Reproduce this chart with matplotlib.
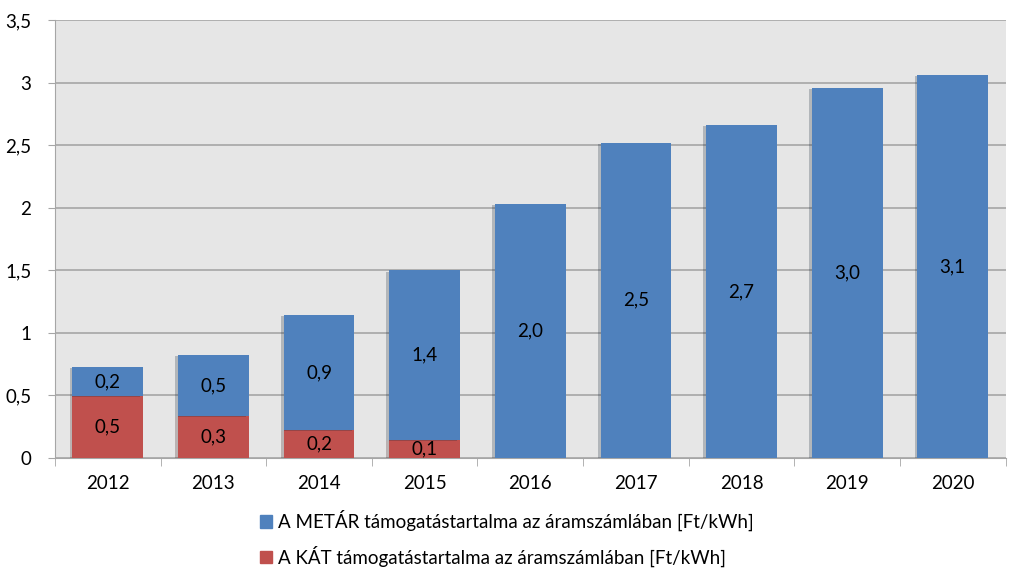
import numpy as np
import matplotlib.pyplot as plt
import matplotlib.patheffects as pe
from matplotlib.patches import Patch
from matplotlib.ticker import FuncFormatter, MultipleLocator

plt.rcParams['font.family'] = ['Lato', 'DejaVu Sans']

years = ['2012', '2013', '2014', '2015', '2016', '2017', '2018', '2019', '2020']
kat = [0.495, 0.335, 0.224, 0.144, 0, 0, 0, 0, 0]  # red part (bottom)
metar = [0.232, 0.488, 0.918, 1.356, 2.03, 2.52, 2.66, 2.96, 3.06]  # blue part (top)
label_metar = 'A METÁR támogatástartalma az áramszámlában [Ft/kWh]'
label_kat = 'A KÁT támogatástartalma az áramszámlában [Ft/kWh]'

blue = '#4F81BD'
red = '#C0504D'
grid_c = '#A6A6A6'
fs = 13.5


def hu(v):
    return ('%.1f' % v).replace('.', ',')


fig = plt.figure(figsize=(10.24, 5.84), dpi=100)
ax = fig.add_axes([0.0537, 0.2158, 0.9283, 0.75])
ax.set_facecolor('#E6E6E6')

xs = np.arange(len(years))
shadow = [pe.SimplePatchShadow(offset=(-2, -1), alpha=0.25), pe.Normal()]
b_kat = ax.bar(xs, kat, width=0.67, color=red, zorder=3)
b_met = ax.bar(xs, metar, width=0.67, bottom=kat, color=blue, zorder=3)
for b in list(b_kat) + list(b_met):
    b.set_path_effects(shadow)

# value labels
for i in range(len(years)):
    if kat[i] > 0:
        ax.text(xs[i], kat[i] / 2, hu(kat[i]), ha='center', va='center', fontsize=fs, zorder=4)
    ax.text(xs[i], kat[i] + metar[i] / 2, hu(metar[i]), ha='center', va='center', fontsize=fs, zorder=4)

ax.set_xlim(-0.5, len(years) - 0.5)
ax.set_ylim(0, 3.5)
ax.yaxis.set_major_locator(MultipleLocator(0.5))
ax.yaxis.set_major_formatter(FuncFormatter(lambda v, p: ('%g' % v).replace('.', ',')))
ax.set_xticks(xs)
ax.set_xticklabels(years)
ax.set_xticks(np.arange(-0.5, len(years)), minor=True)
ax.tick_params(axis='x', which='major', length=0, pad=12, labelsize=fs)
ax.tick_params(axis='x', which='minor', length=6, color=grid_c)
ax.tick_params(axis='y', length=5, color=grid_c, pad=12, labelsize=fs)

ax.grid(axis='y', color=grid_c, linewidth=1.2, zorder=1)
ax.set_axisbelow(True)
for s in ['top', 'right']:
    ax.spines[s].set_visible(False)
ax.spines['left'].set_color(grid_c)
ax.spines['bottom'].set_color(grid_c)

handles = [Patch(color=blue), Patch(color=red)]
fig.legend(handles=handles, labels=[label_metar, label_kat],
           loc='center', bbox_to_anchor=(0.495, 0.078), frameon=False,
           fontsize=fs, handlelength=0.65, handleheight=0.65, handletextpad=0.35,
           labelspacing=0.75)

fig.savefig('out.png', dpi=100, facecolor='white')
